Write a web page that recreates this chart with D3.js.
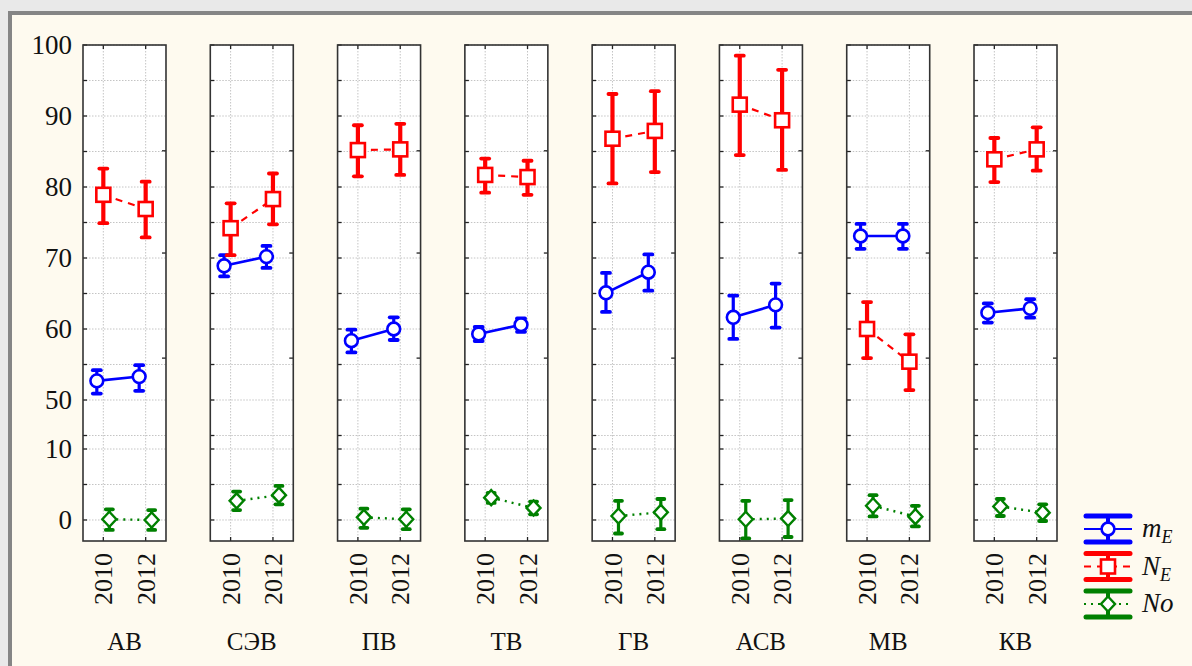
<!DOCTYPE html>
<html>
<head>
<meta charset="utf-8">
<script src="https://cdn.jsdelivr.net/npm/d3@7"></script>
<style>
  body { margin: 0; background: #e9e9e9; }
  svg { display: block; }
  text { font-family: "Liberation Serif", "Times New Roman", serif; fill: #111; }
</style>
</head>
<body>
<svg id="chart" width="1192" height="666"></svg>
<script>
// ---- data ----
const categories = ["АВ", "СЭВ", "ПВ", "ТВ", "ГВ", "АСВ", "МВ", "КВ"];
const years = ["2010", "2012"];

// m_E : mean and confidence limits, [2010, 2012] per category
const mEMean = [[52.7, 53.3], [68.9, 70.2], [58.35, 60.0], [59.3, 60.6], [65.1, 68.0], [61.65, 63.4], [73.1, 73.1], [62.3, 62.9]];
const mELow  = [[50.9, 51.3], [67.4, 68.6], [56.7, 58.45], [58.3, 59.6], [62.4, 65.4], [58.6, 60.2], [71.3, 71.3], [60.9, 61.6]];
const mEHigh = [[54.2, 54.9], [70.4, 71.7], [59.9, 61.65], [60.3, 61.5], [67.9, 70.5], [64.7, 66.4], [74.8, 74.8], [63.6, 64.2]];

// N_E
const nEMean = [[78.9, 76.9], [74.2, 78.3], [85.2, 85.3], [81.7, 81.4], [86.8, 87.9], [91.6, 89.4], [60.0, 55.4], [83.9, 85.3]];
const nELow  = [[74.9, 72.9], [70.4, 74.75], [81.5, 81.7], [79.2, 78.9], [80.5, 82.1], [84.5, 82.4], [55.9, 51.4], [80.7, 82.3]];
const nEHigh = [[82.6, 80.75], [77.7, 81.9], [88.7, 88.9], [84.0, 83.7], [93.1, 93.5], [98.5, 96.5], [63.8, 59.25], [86.9, 88.4]];

// No
const noMean = [[0.1, 0.0], [2.7, 3.5], [0.37, 0.1], [3.15, 1.7], [0.56, 1.08], [0.1, 0.2], [2.0, 0.47], [1.9, 1.03]];
const noLow  = [[-1.4, -1.4], [1.4, 2.2], [-1.1, -1.3], [2.4, 0.8], [-1.9, -1.3], [-2.6, -2.4], [0.5, -0.9], [0.56, -0.14]];
const noHigh = [[1.5, 1.4], [4.0, 4.8], [1.6, 1.5], [3.8, 2.6], [2.7, 2.96], [2.7, 2.8], [3.5, 2.0], [2.96, 2.2]];

// broken value axis: 0..10 below the break, 45..100 above it
const upperGrid = [45, 50, 55, 60, 65, 70, 75, 80, 85, 90, 95, 100];
const lowerGrid = [0, 5, 10];
const yTickLabels = [100, 90, 80, 70, 60, 50, 10, 0];
const rightTicks = [85.1, 70.7, 55.9];

// ---- layout ----
const W = 1192, H = 666;
const svg = d3.select("#chart");

// window frame
svg.append("rect")
  .attr("x", 10).attr("y", 13)
  .attr("width", W + 20).attr("height", H + 20)
  .attr("fill", "#fefaef")
  .attr("stroke", "#858585").attr("stroke-width", 4);

const panelTop = 45, panelBottom = 541;
const yUpper = d3.scaleLinear().domain([43.1, 100]).range([449, panelTop]);
const yLower = d3.scaleLinear().domain([-2.96, 10]).range([panelBottom, 449]);
const y = v => (v > 10 ? yUpper(v) : yLower(v));

const xPanel = d3.scaleBand().domain(categories).range([83, 1057]).paddingInner(0.348).paddingOuter(0);
const bw = xPanel.bandwidth();
const xYear = d3.scalePoint().domain(years).range([0, bw]).padding(0.48);

const series = [
  { key: "mE", mean: mEMean, low: mELow, high: mEHigh, color: "#0000ff", shift: -6.5, marker: "circle", dash: null, lw: 2.6, ew: 3.2, cw: 8 },
  { key: "NE", mean: nEMean, low: nELow, high: nEHigh, color: "#ff0000", shift: 0, marker: "square", dash: "7,6", lw: 2.2, ew: 4.2, cw: 8 },
  { key: "No", mean: noMean, low: noLow, high: noHigh, color: "#008000", shift: 6, marker: "diamond", dash: "2,5", lw: 2.4, ew: 3.2, cw: 7 }
];

function drawMarker(sel, type, color) {
  if (type === "circle") {
    sel.append("circle").attr("r", 6.4)
      .attr("fill", "#fff").attr("stroke", color).attr("stroke-width", 2.6);
  } else if (type === "square") {
    sel.append("rect").attr("x", -7).attr("y", -7).attr("width", 14).attr("height", 14)
      .attr("fill", "#fff").attr("stroke", color).attr("stroke-width", 2.6);
  } else {
    sel.append("path").attr("d", "M0,-7.5L7,0L0,7.5L-7,0Z")
      .attr("fill", "#fff").attr("stroke", color).attr("stroke-width", 2.4);
  }
}

// y tick labels
svg.append("g").selectAll("text")
  .data(yTickLabels).join("text")
  .attr("x", 72).attr("y", d => y(d)).attr("dy", "0.35em")
  .attr("text-anchor", "end")
  .attr("font-size", 27)
  .text(d => d);

categories.forEach((cat, ci) => {
  const g = svg.append("g").attr("transform", `translate(${xPanel(cat)},0)`);

  g.append("rect")
    .attr("x", 0).attr("y", panelTop).attr("width", bw).attr("height", panelBottom - panelTop)
    .attr("fill", "#fff");

  // grid
  const grid = g.append("g").attr("stroke", "#c4c4c4").attr("stroke-width", 1).attr("stroke-dasharray", "1.5,1.5");
  grid.selectAll("line.h")
    .data(upperGrid.map(yUpper).concat(lowerGrid.map(yLower)))
    .join("line").attr("class", "h")
    .attr("x1", 0).attr("x2", bw).attr("y1", d => d).attr("y2", d => d);
  grid.selectAll("line.v")
    .data(years).join("line").attr("class", "v")
    .attr("x1", d => xYear(d)).attr("x2", d => xYear(d))
    .attr("y1", panelTop).attr("y2", panelBottom);

  // inward ticks
  const ticks = g.append("g").attr("stroke", "#222").attr("stroke-width", 1.3);
  ticks.selectAll("line.l")
    .data(upperGrid.map(yUpper).concat(lowerGrid.map(yLower)))
    .join("line").attr("class", "l")
    .attr("x1", 0).attr("x2", 4).attr("y1", d => d).attr("y2", d => d);
  ticks.selectAll("line.r")
    .data(rightTicks).join("line").attr("class", "r")
    .attr("x1", bw - 4).attr("x2", bw).attr("y1", d => yUpper(d)).attr("y2", d => yUpper(d));
  ticks.selectAll("line.t")
    .data(years).join("line").attr("class", "t")
    .attr("x1", d => xYear(d)).attr("x2", d => xYear(d)).attr("y1", panelTop).attr("y2", panelTop + 4);
  ticks.selectAll("line.b")
    .data(years).join("line").attr("class", "b")
    .attr("x1", d => xYear(d)).attr("x2", d => xYear(d)).attr("y1", panelBottom - 4).attr("y2", panelBottom);

  // series
  series.forEach(s => {
    const pts = years.map((yr, yi) => ({
      x: xYear(yr) + s.shift,
      m: s.mean[ci][yi], lo: s.low[ci][yi], hi: s.high[ci][yi]
    }));
    const sg = g.append("g");
    sg.append("path")
      .attr("d", d3.line().x(d => d.x).y(d => y(d.m))(pts))
      .attr("fill", "none").attr("stroke", s.color).attr("stroke-width", s.lw)
      .attr("stroke-dasharray", s.dash);
    const eb = sg.selectAll("g.eb").data(pts).join("g").attr("class", "eb");
    eb.append("line")
      .attr("x1", d => d.x).attr("x2", d => d.x).attr("y1", d => y(d.hi)).attr("y2", d => y(d.lo))
      .attr("stroke", s.color).attr("stroke-width", s.ew);
    ["hi", "lo"].forEach(k => {
      eb.append("line")
        .attr("x1", d => d.x - s.cw / 2).attr("x2", d => d.x + s.cw / 2)
        .attr("y1", d => y(d[k])).attr("y2", d => y(d[k]))
        .attr("stroke", s.color).attr("stroke-width", 3.8).attr("stroke-linecap", "round");
    });
    sg.selectAll("g.mk").data(pts).join("g").attr("class", "mk")
      .attr("transform", d => `translate(${d.x},${y(d.m)})`)
      .each(function () { drawMarker(d3.select(this), s.marker, s.color); });
  });

  // panel border
  g.append("rect")
    .attr("x", 0).attr("y", panelTop).attr("width", bw).attr("height", panelBottom - panelTop)
    .attr("fill", "none").attr("stroke", "#333").attr("stroke-width", 1.6);

  // year labels
  g.selectAll("text.yr").data(years).join("text").attr("class", "yr")
    .attr("transform", d => `translate(${xYear(d)},553) rotate(-90)`)
    .attr("dy", "0.35em").attr("text-anchor", "end")
    .attr("font-size", 26)
    .text(d => d);

  // category label
  g.append("text")
    .attr("x", bw / 2).attr("y", 650)
    .attr("text-anchor", "middle").attr("font-size", 25)
    .text(cat);
});

// legend
const legendItems = [
  { s: series[0], main: "m", sub: "E" },
  { s: series[1], main: "N", sub: "E" },
  { s: series[2], main: "No", sub: null }
];
const legend = svg.append("g").attr("transform", "translate(1084,516)");
legendItems.forEach((it, i) => {
  const lg = legend.append("g").attr("transform", `translate(0,${i * 37.5})`);
  const c = it.s.color, w = 48, mid = 13;
  lg.append("line").attr("x1", 0).attr("x2", w).attr("y1", mid).attr("y2", mid)
    .attr("stroke", c).attr("stroke-width", 2).attr("stroke-dasharray", it.s.dash);
  lg.append("line").attr("x1", w / 2).attr("x2", w / 2).attr("y1", 0).attr("y2", 26)
    .attr("stroke", c).attr("stroke-width", 4);
  [0, 26].forEach(yy => lg.append("line").attr("x1", 2).attr("x2", w - 2).attr("y1", yy).attr("y2", yy)
    .attr("stroke", c).attr("stroke-width", 5).attr("stroke-linecap", "round"));
  const mk = lg.append("g").attr("transform", `translate(${w / 2},${mid})`);
  drawMarker(mk, it.s.marker, c);
  const t = lg.append("text").attr("x", 58).attr("y", mid + 8)
    .attr("font-size", 27).attr("font-style", "italic");
  t.append("tspan").text(it.main);
  if (it.sub) t.append("tspan").attr("dy", 6).attr("font-size", 18).text(it.sub);
});
</script>
</body>
</html>
